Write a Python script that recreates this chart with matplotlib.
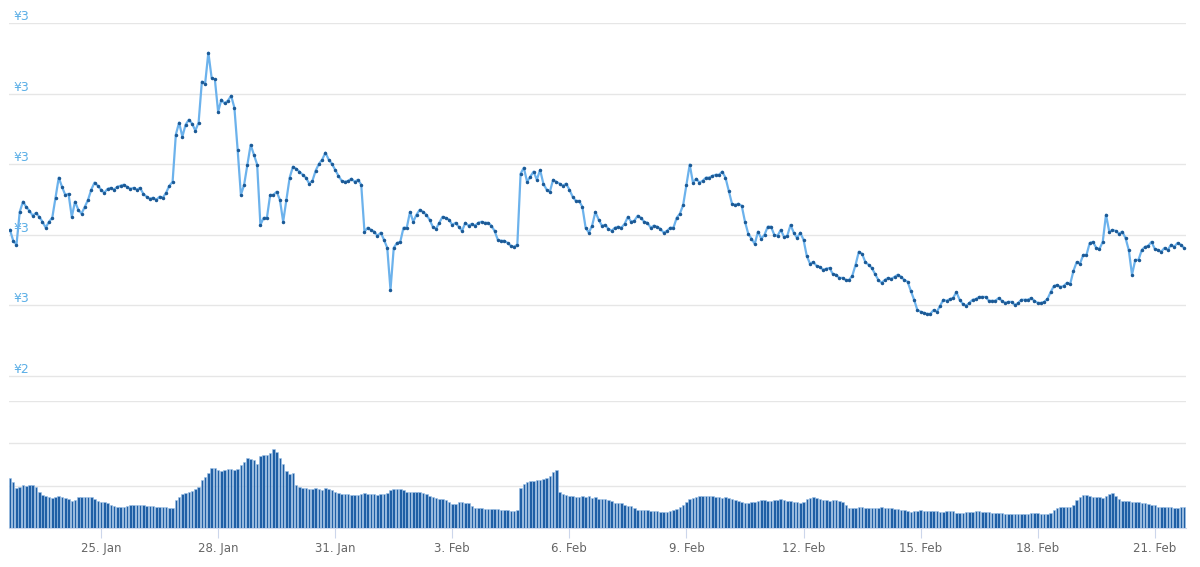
import numpy as np
import pandas as pd
import matplotlib
matplotlib.use("Agg")
import matplotlib.pyplot as plt
from matplotlib.ticker import FuncFormatter

# precio (¥), una muestra cada 2 horas desde 22 Jan 16:00
price = [
    2.814, 2.783, 2.772, 2.865, 2.894, 2.879, 2.868, 2.854, 2.862, 2.851, 2.837, 2.820,
    2.837, 2.848, 2.905, 2.962, 2.936, 2.913, 2.916, 2.851, 2.894, 2.871, 2.860, 2.879,
    2.899, 2.928, 2.948, 2.939, 2.928, 2.919, 2.930, 2.933, 2.928, 2.936, 2.939, 2.942,
    2.936, 2.930, 2.933, 2.928, 2.933, 2.916, 2.908, 2.902, 2.905, 2.899, 2.908, 2.905,
    2.919, 2.939, 2.950, 3.084, 3.118, 3.078, 3.112, 3.126, 3.115, 3.095, 3.118, 3.234,
    3.228, 3.316, 3.245, 3.240, 3.149, 3.183, 3.172, 3.180, 3.194, 3.160, 3.041, 2.913,
    2.942, 2.999, 3.055, 3.027, 2.999, 2.828, 2.848, 2.848, 2.913, 2.913, 2.922, 2.899,
    2.837, 2.899, 2.962, 2.993, 2.987, 2.979, 2.970, 2.962, 2.945, 2.953, 2.982, 3.001,
    3.013, 3.033, 3.013, 3.001, 2.984, 2.967, 2.953, 2.950, 2.953, 2.959, 2.950, 2.956,
    2.942, 2.809, 2.820, 2.814, 2.809, 2.797, 2.806, 2.786, 2.763, 2.644, 2.763, 2.777,
    2.780, 2.820, 2.820, 2.865, 2.837, 2.857, 2.871, 2.865, 2.857, 2.843, 2.823, 2.817,
    2.834, 2.851, 2.848, 2.843, 2.828, 2.834, 2.823, 2.811, 2.834, 2.826, 2.831, 2.826,
    2.834, 2.837, 2.834, 2.834, 2.826, 2.811, 2.786, 2.783, 2.783, 2.777, 2.769, 2.766,
    2.772, 2.973, 2.990, 2.950, 2.965, 2.979, 2.956, 2.984, 2.945, 2.928, 2.922, 2.956,
    2.950, 2.945, 2.939, 2.945, 2.928, 2.908, 2.896, 2.896, 2.879, 2.820, 2.806, 2.826,
    2.865, 2.843, 2.826, 2.828, 2.817, 2.811, 2.820, 2.823, 2.820, 2.831, 2.851, 2.837,
    2.840, 2.854, 2.848, 2.837, 2.834, 2.820, 2.826, 2.823, 2.817, 2.806, 2.811, 2.820,
    2.820, 2.848, 2.860, 2.885, 2.942, 2.999, 2.948, 2.959, 2.948, 2.953, 2.962, 2.962,
    2.967, 2.970, 2.970, 2.979, 2.962, 2.925, 2.888, 2.885, 2.888, 2.882, 2.837, 2.803,
    2.789, 2.774, 2.809, 2.789, 2.800, 2.823, 2.823, 2.800, 2.797, 2.814, 2.794, 2.797,
    2.828, 2.806, 2.791, 2.806, 2.786, 2.740, 2.718, 2.723, 2.712, 2.709, 2.701, 2.704,
    2.706, 2.689, 2.687, 2.678, 2.678, 2.672, 2.672, 2.684, 2.715, 2.752, 2.746, 2.723,
    2.715, 2.706, 2.689, 2.672, 2.664, 2.672, 2.678, 2.675, 2.681, 2.687, 2.681, 2.672,
    2.667, 2.641, 2.616, 2.587, 2.582, 2.579, 2.576, 2.576, 2.587, 2.582, 2.599, 2.616,
    2.613, 2.618, 2.621, 2.638, 2.616, 2.604, 2.599, 2.607, 2.616, 2.618, 2.624, 2.624,
    2.624, 2.613, 2.613, 2.613, 2.621, 2.613, 2.607, 2.610, 2.610, 2.601, 2.607, 2.616,
    2.616, 2.616, 2.621, 2.613, 2.607, 2.607, 2.610, 2.618, 2.638, 2.655, 2.658, 2.652,
    2.655, 2.664, 2.661, 2.698, 2.723, 2.718, 2.743, 2.743, 2.777, 2.780, 2.763, 2.760,
    2.780, 2.857, 2.809, 2.814, 2.811, 2.803, 2.809, 2.791, 2.757, 2.687, 2.729, 2.729,
    2.757, 2.766, 2.769, 2.780, 2.760, 2.757, 2.752, 2.763, 2.757, 2.772, 2.766, 2.777,
    2.772, 2.763,
]

# volumen (millones)
volume = [
    59.1, 54.3, 47.2, 48.4, 50.8, 49.6, 50.8, 50.8, 48.4, 42.5, 39.0, 37.8,
    36.6, 35.4, 36.6, 37.8, 36.6, 35.4, 34.3, 31.9, 33.1, 36.6, 36.6, 36.6,
    36.6, 36.6, 34.3, 31.9, 30.7, 30.7, 29.5, 27.2, 26.0, 24.8, 24.8, 24.8,
    26.0, 27.2, 27.2, 27.2, 27.2, 27.2, 26.0, 26.0, 26.0, 24.8, 24.8, 24.8,
    24.8, 23.6, 23.6, 33.1, 36.6, 40.2, 41.3, 42.5, 43.7, 46.1, 48.4, 56.7,
    60.2, 65.0, 70.9, 70.9, 68.5, 67.3, 68.5, 69.7, 69.7, 68.5, 69.7, 74.4,
    78.0, 82.7, 81.5, 80.3, 75.6, 85.0, 86.2, 86.2, 88.6, 93.3, 89.8, 82.7,
    75.6, 67.3, 63.8, 65.0, 50.8, 48.4, 47.2, 47.2, 46.1, 46.1, 47.2, 46.1,
    44.9, 47.2, 46.1, 44.9, 42.5, 41.3, 40.2, 40.2, 40.2, 39.0, 39.0, 39.0,
    40.2, 41.3, 40.2, 40.2, 40.2, 39.0, 40.2, 40.2, 41.3, 44.9, 46.1, 46.1,
    46.1, 44.9, 42.5, 42.5, 42.5, 42.5, 42.5, 41.3, 40.2, 37.8, 36.6, 35.4,
    34.3, 34.3, 33.1, 30.7, 28.3, 28.3, 30.7, 30.7, 29.5, 29.5, 26.0, 23.6,
    23.6, 23.6, 22.4, 22.4, 22.4, 22.4, 22.4, 21.3, 21.3, 21.3, 20.1, 20.1,
    21.3, 47.2, 52.0, 54.3, 55.5, 55.5, 56.7, 56.7, 57.9, 59.1, 61.4, 66.1,
    68.5, 42.5, 40.2, 39.0, 37.8, 37.8, 36.6, 36.6, 37.8, 36.6, 37.8, 35.4,
    36.6, 34.3, 34.3, 34.3, 33.1, 31.9, 29.5, 29.5, 29.5, 27.2, 26.0, 26.0,
    23.6, 21.3, 21.3, 21.3, 21.3, 20.1, 20.1, 20.1, 18.9, 18.9, 18.9, 20.1,
    21.3, 22.4, 24.8, 27.2, 30.7, 34.3, 35.4, 36.6, 37.8, 37.8, 37.8, 37.8,
    37.8, 36.6, 36.6, 35.4, 36.6, 35.4, 34.3, 33.1, 31.9, 30.7, 29.5, 29.5,
    30.7, 30.7, 31.9, 33.1, 33.1, 31.9, 31.9, 33.1, 33.1, 34.3, 33.1, 31.9,
    31.9, 30.7, 30.7, 29.5, 30.7, 34.3, 35.4, 36.6, 35.4, 34.3, 33.1, 33.1,
    31.9, 33.1, 33.1, 31.9, 30.7, 27.2, 23.6, 23.6, 23.6, 24.8, 24.8, 23.6,
    23.6, 23.6, 23.6, 23.6, 24.8, 23.6, 23.6, 23.6, 22.4, 22.4, 21.3, 21.3,
    20.1, 18.9, 20.1, 20.1, 21.3, 20.1, 20.1, 20.1, 20.1, 20.1, 18.9, 18.9,
    20.1, 20.1, 20.1, 17.7, 17.7, 17.7, 18.9, 18.9, 18.9, 20.1, 20.1, 18.9,
    18.9, 18.9, 17.7, 17.7, 17.7, 17.7, 16.5, 16.5, 16.5, 16.5, 16.5, 16.5,
    16.5, 16.5, 17.7, 17.7, 17.7, 16.5, 16.5, 16.5, 17.7, 21.3, 23.6, 24.8,
    24.8, 24.8, 24.8, 27.2, 33.1, 36.6, 39.0, 39.0, 37.8, 36.6, 36.6, 36.6,
    35.4, 37.8, 40.2, 41.3, 37.8, 34.3, 31.9, 31.9, 31.9, 30.7, 30.7, 30.7,
    29.5, 29.5, 28.3, 27.2, 27.2, 24.8, 24.8, 24.8, 24.8, 24.8, 23.6, 23.6,
    24.8, 24.8,
]

price_ticks = [2.4, 2.6, 2.8, 3.0, 3.2, 3.4]
volume_ticks = [0, 50, 100, 150]
date_ticks = pd.date_range("2018-01-25", periods=10, freq="3D")

times = pd.date_range("2018-01-22 16:00", periods=len(price), freq="2h")
step = pd.Timedelta(hours=2)
xlim = (times[0] - step * 0.3, times[-1] + step * 0.6)

W, H = 1200, 567
fig = plt.figure(figsize=(W / 100, H / 100), dpi=100)
plt.rcParams["font.family"] = "DejaVu Sans"

left, right = 9 / W, 1186 / W
ax = fig.add_axes([left, 1 - 378 / H, right - left, (378 - 23) / H])
axv = fig.add_axes([left, 1 - 528 / H, right - left, (528 - 401) / H])

grid_c = "#e6e6e6"

# precio
ax.plot(times, price, color="#6cb2ec", lw=1.6, zorder=3)
ax.plot(times, price, ls="none", marker="o", ms=1.5, color="#1c5a96", zorder=4)
ax.set_xlim(*xlim)
ax.set_ylim(2.4 - 0.2 * 2 / 70.5, price_ticks[-1])
ax.set_yticks(price_ticks)
ax.yaxis.set_major_formatter(FuncFormatter(lambda v, p: f"¥{v:.0f}"))
ax.grid(axis="y", color=grid_c, lw=1)
ax.set_axisbelow(True)
ax.tick_params(axis="y", length=0, pad=-3, labelsize=9, labelcolor="#5aaee6")
for lab in ax.get_yticklabels():
    lab.set_ha("left")
    lab.set_va("bottom")
ax.set_xticks([])
for s in ax.spines.values():
    s.set_visible(False)

# volumen
axv.bar(times, volume, width=step / pd.Timedelta(days=1) * 0.78,
        color="#1f5fa5", edgecolor="#9fc3e8", linewidth=0.4, zorder=3)
axv.set_xlim(*xlim)
axv.set_ylim(volume_ticks[0], volume_ticks[-1])
axv.set_yticks(volume_ticks)
axv.set_yticklabels([])
axv.tick_params(axis="y", length=0)
axv.grid(axis="y", color=grid_c, lw=1)
axv.set_axisbelow(True)
for name, s in axv.spines.items():
    s.set_visible(name == "bottom")
axv.spines["bottom"].set_color("#ccd6eb")
axv.set_xticks(date_ticks)
axv.xaxis.set_major_formatter(FuncFormatter(
    lambda v, p: f"{matplotlib.dates.num2date(v).day}. {matplotlib.dates.num2date(v):%b}"))
axv.tick_params(axis="x", length=7, color="#ccd6eb", pad=3,
                labelsize=8.5, labelcolor="#666666")

fig.savefig("out.png", dpi=100)
